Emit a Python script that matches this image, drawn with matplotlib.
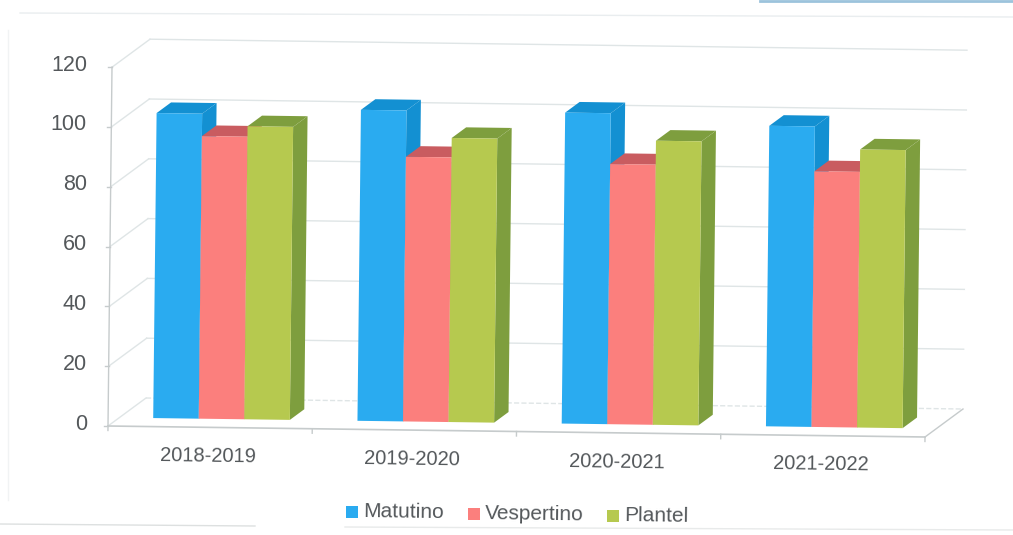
# -*- coding: utf-8 -*-
"""
Faux 3D clustered columns by school year
"""

import numpy as np
import matplotlib
matplotlib.use('Agg')
import matplotlib.pyplot as plt
from matplotlib.transforms import Affine2D

plt.rcParams['font.family'] = ['Liberation Sans', 'DejaVu Sans']

# ============================================
# Data
# ============================================
periods = ['2018-2019', '2019-2020', '2020-2021', '2021-2022']
series_names = ['Matutino', 'Vespertino', 'Plantel']
matutino = [102, 104, 104, 100.5]
vespertino = [94.5, 88.5, 87, 85.5]
plantel = [98, 95, 95, 93]
y_ticks = [0, 20, 40, 60, 80, 100, 120]

front_colors = ['#2AABF0', '#FB7F7D', '#B6C94F']
shade_colors = ['#1390D2', '#C95C60', '#7E9E3E']
grid_color = '#DFE5E6'
axis_color = '#C6CBCC'
text_color = '#54585B'

# projection: category, value -> pixels, depth 0 (front) to 1 (back)
x0, y0 = 108, 426
cat_w = 204.25
px_per_unit = 2.99
tilt = 2.75
shear = 4 / 120
depth_dx, depth_dy = 38, -28


def wall(depth):
    return Affine2D.from_values(cat_w, tilt, shear, -px_per_unit,
                                x0 + depth * depth_dx, y0 + depth * depth_dy)


fig = plt.figure(figsize=(10.13, 5.35), dpi=100)
ax = fig.add_axes([0, 0, 1, 1])
ax.set_xlim(0, 1013)
ax.set_ylim(535, 0)
ax.axis('off')
ax.set_autoscale_on(False)

# ============================================
# Walls, grid and axes
# ============================================
n = len(periods)
front = wall(0) + ax.transData
back = wall(1) + ax.transData

ax.plot([0, n], [0, 0], color=grid_color, lw=1, ls='--', transform=back, zorder=1)
for v in y_ticks:
    if v > 0:
        ax.plot([0, n], [v, v], color=grid_color, lw=1, transform=back, zorder=1)
    p0 = wall(0).transform((0, v))
    p1 = wall(1).transform((0, v))
    ax.plot([p0[0], p1[0]], [p0[1], p1[1]], color=grid_color, lw=1, zorder=1)
    ax.plot([p0[0] - 4, p0[0]], [p0[1], p0[1]], color=axis_color, lw=1, zorder=1)
    ax.text(p0[0] - 21 - shear * v, p0[1] - 2, str(v), ha='right', va='center', fontsize=15.5,
            color=text_color, zorder=5)

ax.plot([0, 0], [0, y_ticks[-1]], color=axis_color, lw=1, transform=front, zorder=1)
ax.plot([0, n], [0, 0], color=axis_color, lw=1.2, transform=front, zorder=1)
p0 = wall(0).transform((n, 0))
p1 = wall(1).transform((n, 0))
ax.plot([p0[0], p1[0]], [p0[1], p1[1]], color=axis_color, lw=1, zorder=1)
for i in range(n + 1):
    ax.plot([i, i], [0, -1.5], color=axis_color, lw=1, transform=front, zorder=1)

# ============================================
# Bars
# ============================================
bar_w = 0.223
d_front, d_back = 0.3, 0.68
t_front = wall(d_front)
t_back = wall(d_back)
groups = np.arange(n) + 0.5

for s, values in enumerate([matutino, vespertino, plantel]):
    offset = (s - 1) * bar_w
    for g, v in zip(groups, values):
        left = g + offset - bar_w / 2
        right = left + bar_w
        # side face, top face, then front face
        a, b = t_front.transform((right, 0)), t_front.transform((right, v))
        c, d = t_back.transform((right, v)), t_back.transform((right, 0))
        ax.fill([a[0], b[0], c[0], d[0]], [a[1], b[1], c[1], d[1]],
                color=shade_colors[s], lw=0, zorder=2 + s)
        e = t_front.transform((left, v))
        f = t_back.transform((left, v))
        ax.fill([e[0], b[0], c[0], f[0]], [e[1], b[1], c[1], f[1]],
                color=shade_colors[s], lw=0, zorder=2 + s)
    ax.bar(groups + offset, values, width=bar_w, color=front_colors[s], lw=0,
           transform=t_front + ax.transData, zorder=2 + s)

# ============================================
# Category labels and legend
# ============================================
for g, label in zip(groups, periods):
    p = wall(0).transform((g, 0))
    ax.text(p[0] - 2, p[1] + 29, label, ha='center', va='center', fontsize=14.5,
            color=text_color, rotation=-0.8, rotation_mode='anchor', zorder=5)

legend_x = [346, 468, 607]
legend_y = [512, 513.5, 516]
for name, lx, ly, col in zip(series_names, legend_x, legend_y, front_colors):
    ax.fill([lx, lx + 12, lx + 12, lx], [ly - 6, ly - 6, ly + 6, ly + 6], color=col, lw=0)
    ax.text(lx + 17, ly, name, ha='left', va='center', fontsize=15,
            color=text_color, rotation=-0.8, rotation_mode='anchor')

# faint frame left over from the scanned page
ax.plot([20, 1013], [13, 17], color='#E9EDEF', lw=1)
ax.plot([8, 8], [30, 500], color='#F1F3F4', lw=1)
ax.plot([0, 255], [524, 526], color='#DDE0E0', lw=1)
ax.plot([345, 1013], [527, 530], color='#E8EAEA', lw=1)
ax.plot([760, 1013], [0.5, 0.5], color='#9CC3DC', lw=2)

fig.savefig('out.png', dpi=100)
